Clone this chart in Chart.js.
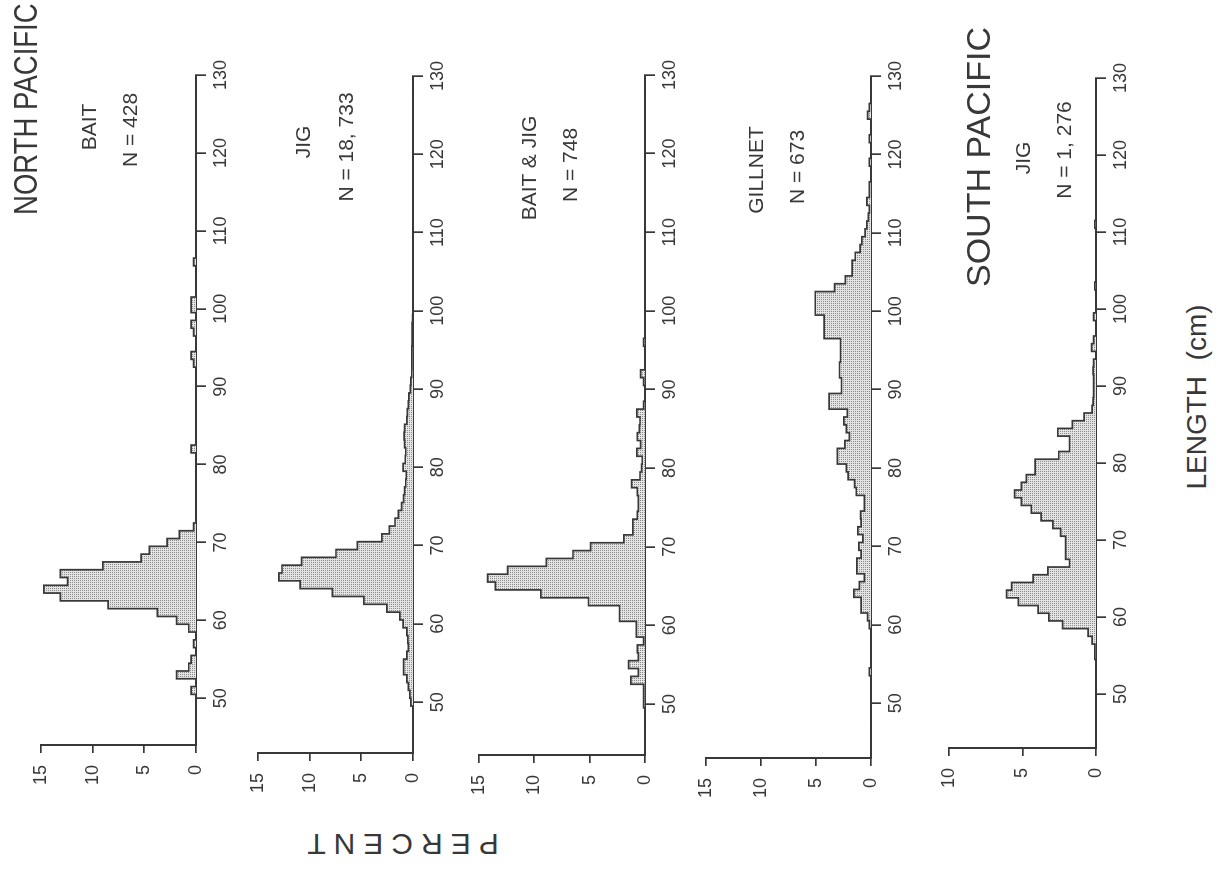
<!DOCTYPE html>
<html>
<head>
<meta charset="utf-8">
<script src="https://cdn.jsdelivr.net/npm/chart.js@4.4.0/dist/chart.umd.min.js"></script>
<style>
html,body{margin:0;padding:0;background:#fff;width:1216px;height:872px;overflow:hidden;}
#page{position:absolute;left:0;top:0;width:872px;height:1216px;transform-origin:0 0;transform:translate(0px,872px) rotate(-90deg);font-family:"Liberation Sans",Arial,Helvetica,sans-serif;color:#383838;background:#fff;}
#page canvas{position:absolute;}
.t{position:absolute;white-space:nowrap;line-height:1;transform:translate(-50%,-50%);}
.big{font-size:34px;transform-origin:0 50%;}
.sub{font-size:21px;}
</style>
</head>
<body>
<div id="page"></div>
<script>
// ---- DATA (percent of fish per 1-cm length bin) ----
// bin centres in cm (each bin spans centre-0.5 .. centre+0.5)
const LENGTH_BINS = [48,49,50,51,52,53,54,55,56,57,58,59,60,61,62,63,64,65,66,67,68,69,70,71,72,73,74,75,76,77,78,79,80,81,82,83,84,85,86,87,88,89,90,91,92,93,94,95,96,97,98,99,100,101,102,103,104,105,106,107,108,109,110,111,112,113,114,115,116,117,118,119,120,121,122,123,124,125,126,127];

const NP_BAIT = [
  0,0,0,0.47,0,1.87,0.70,0.47,0,0.23,
  0,0.70,1.87,3.74,8.5,13.1,14.7,12.4,13.1,9.0,
  5.3,4.5,2.8,1.6,0.23,0,0,0,0,0,
  0,0,0,0,0.47,0,0,0,0,0,
  0,0,0,0,0,0.23,0.47,0,0,0.23,
  0.47,0,0.47,0.47,0,0,0,0,0.23,0,
  0,0,0,0,0,0,0,0,0,0,
  0,0,0,0,0,0,0,0,0,0];

const NP_JIG = [
  0,0,0.2,0.3,0.45,0.6,0.9,0.9,0.6,0.45,
  0.5,0.6,0.95,1.27,2.53,4.75,7.8,10.9,12.97,12.66,
  10.76,7.44,5.38,3.0,2.28,1.74,1.42,1.1,0.9,0.8,
  0.7,0.65,0.95,0.75,0.7,0.8,0.85,0.8,0.6,0.55,
  0.45,0.4,0.25,0.2,0.12,0.1,0.1,0.1,0.08,0.08,
  0.08,0.05,0,0,0,0,0,0,0,0,
  0,0,0,0,0,0,0,0,0,0,
  0,0,0,0,0,0,0,0,0,0];

const NP_BAIT_JIG = [
  0,0,0.13,0.13,0.13,1.27,0.59,1.48,0.59,0.68,
  0.13,0.77,0.77,2.3,2.3,5.1,9.4,13.5,14.2,12.4,
  8.9,6.5,4.9,1.9,1.1,1.1,0.7,0.6,0.6,0.7,
  1.2,0.45,0.3,0.25,0.74,0.4,0.7,0.5,0.45,0.74,
  0.13,0,0,0.13,0.4,0,0,0,0.13,0,
  0,0,0,0,0,0,0,0,0,0,
  0,0,0,0,0,0,0,0,0,0,
  0,0,0,0,0,0,0,0,0,0];

const NP_GILLNET = [
  0,0,0,0,0,0,0.15,0,0,0,
  0,0,0.15,0.3,0.9,0.9,1.55,1.05,0.6,1.28,
  1.28,0.9,1.1,0.74,1.19,0.9,0.95,0.6,0.6,1.34,
  1.49,2.08,2.23,3.06,3.06,2.38,1.96,2.23,2.47,2.14,
  3.81,3.81,2.68,2.68,2.86,2.86,2.77,2.77,2.77,4.26,
  4.26,4.26,5.06,5.06,5.06,3.3,2.32,1.72,1.72,1.43,
  0.98,0.83,0.54,0.38,0.24,0.15,0.38,0.15,0.15,0,
  0,0.15,0,0,0.15,0,0,0.3,0.15,0];

const SP_JIG = [
  0,0,0,0,0,0,0,0.08,0.08,0.27,
  0.53,2.27,3.2,3.93,5.27,6.07,5.73,4.27,3.27,1.8,
  2.07,2.07,2.07,2.4,2.93,3.73,4.4,5.07,5.53,5.07,
  4.73,4.13,4.13,2.53,1.8,1.8,2.6,1.6,0.8,0.27,
  0.2,0.16,0.16,0.16,0.2,0.16,0,0.3,0.16,0,
  0,0.16,0,0,0,0.08,0,0,0,0,
  0,0,0,0.08,0,0,0,0,0,0,
  0,0,0,0,0,0,0,0,0,0];

const LENGTH_TICKS = [50,60,70,80,90,100,110,120,130];
const PERCENT_TICKS = [0,5,10,15];
const SP_PERCENT_TICKS = [0,5,10];

const NP_TITLE = "NORTH PACIFIC";
const SP_TITLE = "SOUTH PACIFIC";
const GEAR_LABELS = ["BAIT","JIG","BAIT & JIG","GILLNET","JIG"];
const N_LABELS = ["N = 428","N = 18, 733","N = 748","N = 673","N = 1, 276"];
const X_TITLE = "LENGTH  (cm)";
const Y_TITLE = "PERCENT";

// ---- LAYOUT (unrotated page: x = along length axis, y = down the stack) ----
const FONT = '"Liberation Sans", Arial, Helvetica, sans-serif';
const INK = '#383838';
// left = pixel of the axis start (xMin), x50 = pixel of 50 cm, right = pixel of 130 cm
const PANELS = [
  {values: NP_BAIT,     yMax: 15, yTicks: PERCENT_TICKS,    xMin:44.0, left:127, right:797, top:38,  bottom:196},
  {values: NP_JIG,      yMax: 15, yTicks: PERCENT_TICKS,    xMin:43.5, left:119, right:796, top:255, bottom:413},
  {values: NP_BAIT_JIG, yMax: 15, yTicks: PERCENT_TICKS,    xMin:43.5, left:117, right:797, top:476, bottom:645},
  {values: NP_GILLNET,  yMax: 15, yTicks: PERCENT_TICKS,    xMin:43.0, left:114, right:796, top:703, bottom:871},
  {values: SP_JIG,      yMax: 10, yTicks: SP_PERCENT_TICKS, xMin:43.0, left:124, right:794, top:946, bottom:1096}
];
const Y_AXIS_W = 70, X_AXIS_H = 50, PAD_TOP = 20, PAD_RIGHT = 30;

function stipple(){
  const c = document.createElement('canvas');
  c.width = 2; c.height = 2;
  const g = c.getContext('2d');
  g.fillStyle = '#e4e4e4'; g.fillRect(0,0,2,2);
  g.fillStyle = '#8a8a8a'; g.fillRect(0,0,1,1);
  return g.createPattern(c,'repeat');
}

const page = document.getElementById('page');

function histPoints(values){
  // step line: each point at the left edge of its bin, closing point at the last right edge
  const pts = LENGTH_BINS.map((c,i)=>({x:c-0.5, y:values[i]}));
  pts.push({x:LENGTH_BINS[LENGTH_BINS.length-1]+0.5, y:0});
  return pts;
}

PANELS.forEach((p)=>{
  const cv = document.createElement('canvas');
  const w = (p.right-p.left) + Y_AXIS_W + PAD_RIGHT;
  const h = (p.bottom-p.top) + PAD_TOP + X_AXIS_H;
  cv.width = w; cv.height = h;
  cv.style.left = (p.left - Y_AXIS_W) + 'px';
  cv.style.top = (p.top - PAD_TOP) + 'px';
  cv.style.width = w + 'px'; cv.style.height = h + 'px';
  page.appendChild(cv);
  new Chart(cv, {
    type: 'line',
    data: { datasets: [{
      data: histPoints(p.values),
      stepped: true,
      fill: 'origin',
      backgroundColor: stipple(),
      borderColor: INK,
      borderWidth: 1.7,
      pointRadius: 0,
      tension: 0
    }]},
    options: {
      responsive: false, animation: false, devicePixelRatio: 1,
      layout: { padding: { left: 0, right: PAD_RIGHT, top: PAD_TOP, bottom: 0 } },
      plugins: { legend: {display:false}, tooltip: {enabled:false}, title: {display:false} },
      scales: {
        x: {
          type: 'linear', min: p.xMin, max: 130,
          afterBuildTicks: s => { s.ticks = LENGTH_TICKS.map(v=>({value:v})); },
          afterFit: s => { s.height = X_AXIS_H; },
          grid: { display: true, drawOnChartArea: false, drawTicks: true, tickLength: 10, color: INK, lineWidth: 1.7 },
          border: { display: true, color: INK, width: 2 },
          ticks: { font: {family: FONT, size: 18}, color: INK, padding: 4, maxRotation: 0, autoSkip: false }
        },
        y: {
          type: 'linear', min: 0, max: p.yMax,
          afterBuildTicks: s => { s.ticks = p.yTicks.map(v=>({value:v})); },
          afterFit: s => { s.width = Y_AXIS_W; },
          grid: { display: true, drawOnChartArea: false, drawTicks: true, tickLength: 8, color: INK, lineWidth: 1.7 },
          border: { display: true, color: INK, width: 2 },
          ticks: { font: {family: FONT, size: 18}, color: INK, padding: 12, autoSkip: false }
        }
      }
    }
  });
});

function addText(txt, cls, x, y, extra){
  const d = document.createElement('div');
  d.className = 't ' + cls;
  d.textContent = txt;
  d.style.left = x + 'px';
  d.style.top = y + 'px';
  if (extra) Object.assign(d.style, extra);
  page.appendChild(d);
  return d;
}

addText(NP_TITLE, 'big', 657, 25, {transform:'translate(0,-50%) scaleX(0.81)'});
addText(SP_TITLE, 'big', 585, 978, {transform:'translate(0,-50%)'});
const GEAR_POS = [[745,88],[730,302],[704,528],[702,755],[714,1022]];
const N_POS = [[742,129],[725,345],[707,569],[705,796],[722,1063]];
GEAR_LABELS.forEach((g,i)=>addText(g,'sub',GEAR_POS[i][0],GEAR_POS[i][1]));
N_LABELS.forEach((n,i)=>addText(n,'sub',N_POS[i][0],N_POS[i][1]));
addText(X_TITLE, '', 475, 1197, {fontSize:'28px', whiteSpace:'pre'});
addText(Y_TITLE, '', 28, 399, {fontSize:'30px', letterSpacing:'8px', transform:'translate(-50%,-50%) rotate(-90deg)'});
</script>
</body>
</html>
